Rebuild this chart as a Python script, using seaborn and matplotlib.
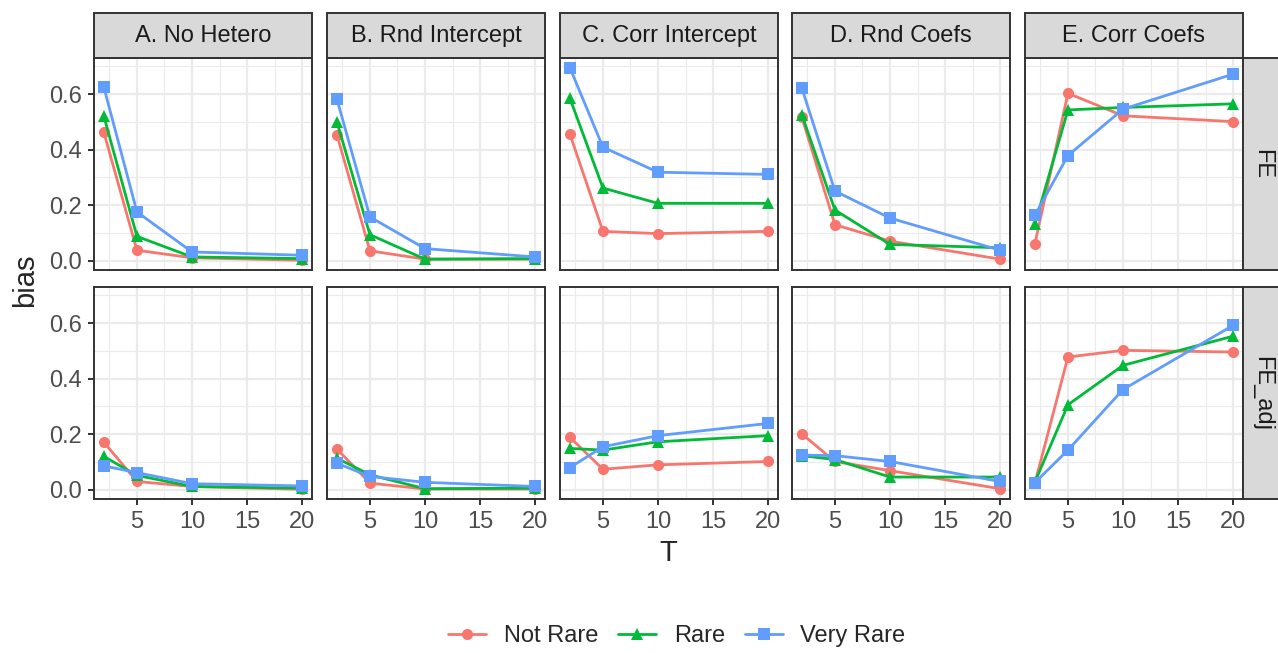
import matplotlib
matplotlib.use("Agg")
import matplotlib.pyplot as plt
from matplotlib.patches import Rectangle
from matplotlib.ticker import FixedLocator
import seaborn as sns
import pandas as pd

# Data
T = [2, 5, 10, 20]
rarity = ["Not Rare", "Rare", "Very Rare"]
hetero = ["A. No Hetero", "B. Rnd Intercept", "C. Corr Intercept", "D. Rnd Coefs", "E. Corr Coefs"]
estimators = ["FE", "FE_adj"]

# one list per panel (A..E), values at T = 2, 5, 10, 20
fe_not_rare = [
    [0.462, 0.038, 0.011, 0.002],
    [0.454, 0.036, 0.006, 0.006],
    [0.456, 0.106, 0.098, 0.106],
    [0.516, 0.130, 0.071, 0.006],
    [0.062, 0.603, 0.522, 0.501],
]
fe_rare = [
    [0.520, 0.088, 0.014, 0.008],
    [0.500, 0.094, 0.006, 0.008],
    [0.585, 0.262, 0.207, 0.207],
    [0.525, 0.183, 0.059, 0.047],
    [0.132, 0.543, 0.552, 0.565],
]
fe_very_rare = [
    [0.624, 0.176, 0.032, 0.020],
    [0.582, 0.158, 0.044, 0.014],
    [0.695, 0.409, 0.319, 0.311],
    [0.621, 0.251, 0.154, 0.038],
    [0.164, 0.379, 0.546, 0.672],
]
adj_not_rare = [
    [0.171, 0.030, 0.012, 0.002],
    [0.147, 0.024, 0.003, 0.003],
    [0.189, 0.074, 0.090, 0.102],
    [0.201, 0.102, 0.069, 0.004],
    [0.024, 0.478, 0.502, 0.496],
]
adj_rare = [
    [0.120, 0.052, 0.012, 0.006],
    [0.114, 0.054, 0.004, 0.006],
    [0.149, 0.143, 0.173, 0.195],
    [0.123, 0.109, 0.046, 0.046],
    [0.028, 0.306, 0.448, 0.553],
]
adj_very_rare = [
    [0.086, 0.062, 0.022, 0.014],
    [0.096, 0.048, 0.027, 0.012],
    [0.080, 0.155, 0.195, 0.239],
    [0.125, 0.123, 0.102, 0.030],
    [0.026, 0.143, 0.361, 0.592],
]

series = {
    "FE": [fe_not_rare, fe_rare, fe_very_rare],
    "FE_adj": [adj_not_rare, adj_rare, adj_very_rare],
}

rows = []
for est in estimators:
    for r, vals in zip(rarity, series[est]):
        for h, panel in zip(hetero, vals):
            for t, b in zip(T, panel):
                rows.append({"est": est, "het": h, "rarity": r, "T": t, "bias": b})
df = pd.DataFrame(rows)

palette = {"Not Rare": "#F8766D", "Rare": "#00BA38", "Very Rare": "#619CFF"}
markers = {"Not Rare": "o", "Rare": "^", "Very Rare": "s"}

sns.set_style("white")
plt.rcParams["font.family"] = ["Liberation Sans", "DejaVu Sans"]

W, H = 1278, 653
fig = plt.figure(figsize=(W / 100, H / 100), dpi=100)

lefts = [94, 327, 560, 792, 1025]
pw = 218
row_px = [(58, 270), (287, 499)]
dark = "#333333"
fs = 17

axes = []
for i, est in enumerate(estimators):
    top, bot = row_px[i]
    for j, h in enumerate(hetero):
        ax = fig.add_axes([lefts[j] / W, 1 - bot / H, pw / W, (bot - top) / H])
        sub = df[(df.est == est) & (df.het == h)]
        sns.lineplot(
            data=sub, x="T", y="bias", hue="rarity", style="rarity",
            hue_order=rarity, style_order=rarity, palette=palette,
            markers=markers, dashes=False, markersize=8, linewidth=2.0,
            markeredgewidth=0, ax=ax, legend=(i == 0 and j == 0),
        )
        ax.set_xlim(1.1, 20.9)
        ax.set_ylim(-0.033, 0.73)
        ax.xaxis.set_major_locator(FixedLocator([5, 10, 15, 20]))
        ax.xaxis.set_minor_locator(FixedLocator([2.5, 7.5, 12.5, 17.5]))
        ax.yaxis.set_major_locator(FixedLocator([0, 0.2, 0.4, 0.6]))
        ax.yaxis.set_minor_locator(FixedLocator([0.1, 0.3, 0.5, 0.7]))
        ax.set_yticklabels(["0.0", "0.2", "0.4", "0.6"])
        ax.grid(which="major", color="#EBEBEB", linewidth=1.6)
        ax.grid(which="minor", color="#EBEBEB", linewidth=0.8)
        ax.set_axisbelow(True)
        for s in ax.spines.values():
            s.set_color(dark)
            s.set_linewidth(1.4)
        ax.tick_params(which="major", length=4.5, width=1.4, color=dark,
                       labelsize=fs, labelcolor="#4D4D4D", pad=4.5)
        ax.tick_params(which="minor", length=0)
        ax.tick_params(left=(j == 0), labelleft=(j == 0),
                       bottom=(i == 1), labelbottom=(i == 1))
        ax.set_xlabel("")
        ax.set_ylabel("")
        axes.append(ax)

# legend
handles, labels = axes[0].get_legend_handles_labels()
axes[0].get_legend().remove()
fig.legend(handles, labels, loc="center", bbox_to_anchor=(677 / W, 1 - 636 / H),
           ncol=3, frameon=False, fontsize=fs, handlelength=1.6,
           columnspacing=0.85, handletextpad=0.75)

# strips
for j, h in enumerate(hetero):
    fig.add_artist(Rectangle((lefts[j] / W, 1 - 58 / H), pw / W, 45 / H,
                             transform=fig.transFigure, facecolor="#D9D9D9",
                             edgecolor=dark, linewidth=1.4))
    fig.text((lefts[j] + pw / 2) / W, 1 - 36 / H, h, ha="center", va="center",
             fontsize=fs, color="#1A1A1A")
for i, est in enumerate(estimators):
    top, bot = row_px[i]
    fig.add_artist(Rectangle((1243 / W, 1 - bot / H), 36 / W, (bot - top) / H,
                             transform=fig.transFigure, facecolor="#D9D9D9",
                             edgecolor=dark, linewidth=1.4))
    fig.text(1262 / W, 1 - (top + bot) / 2 / H, est, ha="center", va="center",
             rotation=-90, fontsize=fs, color="#1A1A1A")

fig.text(668 / W, 1 - 553 / H, "T", ha="center", va="center", fontsize=21)
fig.text(25 / W, 1 - 280 / H, "bias", ha="center", va="center", rotation=90, fontsize=21)

fig.savefig("out.png", dpi=100)
